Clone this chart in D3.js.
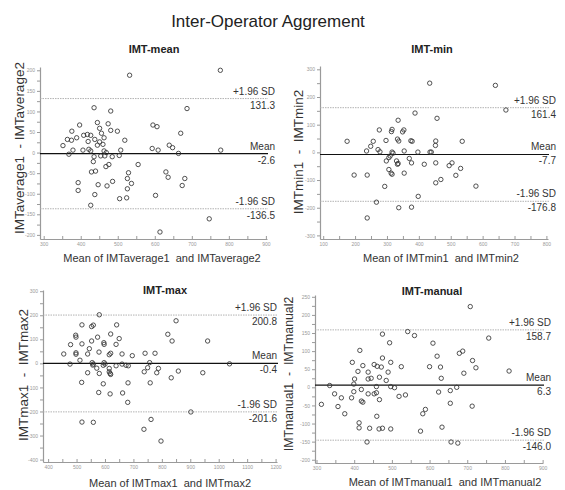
<!DOCTYPE html>
<html>
<head>
<meta charset="utf-8">
<script src="https://cdn.jsdelivr.net/npm/d3@7"></script>
<style>
  body { margin: 0; background: #fff; }
  svg { font-family: "Liberation Sans", Arial, sans-serif; }
  .tick text { fill: #999; font-size: 5px; }
  .tick line, .domain { stroke: #9a9a9a; }
</style>
</head>
<body>
<div id="chart"></div>
<script>
// ---- data ----
const meanX = [532, 436, 481, 445, 474, 397, 451, 376, 481, 499, 456, 408, 418, 427, 389, 364, 375, 463, 519, 438,
  451, 420, 460, 352, 445, 379, 406, 422, 427, 463, 469, 368, 508, 504, 436, 454, 465, 485, 434, 555,
  468, 476, 529, 526, 537, 526, 429, 440, 393, 393, 447, 471, 486, 438, 427, 505, 524, 593, 609, 595,
  606, 602, 614, 777, 687, 670, 639, 648, 664, 778, 630, 636, 681, 674, 747];
const meanY = [188, 109, 101, 73, 70, 67, 59, 52, 54, 52, 47, 42, 44, 42, 36, 32, 30, 36, 30, 32,
  26, 27, 20, 17, 18, 6, 6, 8, 4, 4, 0, -4, 6, -7, -10, -8, -8, -10, -22, -29,
  -34, -29, -49, -63, -75, -88, -47, -45, -73, -92, -78, -81, -70, -102, -128, -112, -110, 10, 6, 67,
  63, -104, -193, 200, 107, 47, 18, 12, -2, 6, -47, -60, -63, -80, -161];
const meanStats = [131.3, -2.6, -136.5];

const minX = [434, 388, 335, 276, 316, 314, 353, 349, 175, 257, 297, 333, 337, 375, 379, 236, 249, 272, 278, 316,
  319, 354, 397, 435, 439, 298, 306, 310, 330, 335, 333, 370, 377, 417, 197, 238, 306, 313, 316, 354,
  293, 398, 267, 337, 377, 238, 640, 673, 457, 453, 452, 536, 495, 504, 453, 531, 453, 469, 516, 579];
const minY = [250, 142, 116, 81, 83, 75, 81, 74, 40, 40, 43, 48, 41, 42, 40, 5, 22, 10, 2, 1,
  -3, 5, 1, 1, 1, -31, -19, -13, -31, -40, -43, -22, -38, -43, -82, -82, -62, -75, -79, -75,
  -123, -159, -180, -200, -198, -237, 242, 153, 123, 41, 25, 40, -48, -38, -38, -58, -110, -98, -83, -122];
const minStats = [161.4, -7.7, -176.8];

const maxX = [580, 519, 553, 559, 641, 620, 497, 498, 574, 650, 553, 479, 519, 596, 597, 639, 545, 455, 498, 498,
  539, 579, 615, 620, 660, 512, 477, 555, 559, 557, 597, 600, 594, 571, 539, 580, 615, 615, 618, 620,
  639, 660, 674, 682, 696, 518, 594, 681, 578, 618, 662, 680, 519, 559, 850, 821, 836, 961, 741, 776,
  757, 750, 738, 782, 788, 858, 833, 759, 944, 1038, 902, 762, 737, 797];
const maxY = [202, 160, 153, 159, 160, 122, 117, 109, 109, 103, 93, 78, 81, 86, 79, 79, 61, 39, 44, 38,
  39, 47, 36, 42, 39, 13, -3, 3, -3, -7, 3, -3, -8, -20, -39, -42, -21, -35, -42, -46,
  -10, -3, -8, -10, 32, -79, -85, -81, -121, -127, -123, -162, -244, -245, 177, 121, 93, 93, 42, 42,
  3, -18, -35, -39, -21, -32, -60, -81, -39, -2, -202, -233, -274, -323];
const maxStats = [200.8, -0.4, -201.6];

const manualX = [708, 542, 560, 475, 494, 609, 757, 415, 620, 679, 688, 475, 395, 497, 714, 423, 453, 461, 472, 525,
  600, 629, 410, 437, 490, 723, 691, 811, 437, 445, 467, 485, 631, 401, 399, 335, 459, 497, 507, 399,
  437, 453, 459, 419, 366, 393, 419, 423, 467, 519, 536, 624, 655, 672, 313, 357, 348, 375, 655, 582,
  589, 460, 413, 413, 441, 466, 475, 497, 633, 576, 434, 657, 675, 713];
const manualY = [223, 154, 143, 147, 123, 122, 136, 102, 86, 94, 100, 81, 69, 69, 74, 60, 63, 58, 56, 57,
  57, 56, 44, 42, 42, 54, 39, 45, 23, 25, 28, 19, 25, 23, 9, 5, 2, 2, -1, -12,
  -18, -18, -15, -6, -29, -29, -38, -41, -34, -25, -21, -13, -9, 0, -47, -53, -18, -73, -44, -73,
  -61, -80, -98, -112, -113, -115, -113, -115, -110, -121, -151, -151, -154, -52];
const manualStats = [158.7, 6.3, -146.0];

const meanXTicks = [300, 400, 500, 600, 700, 800, 900];
const meanYTicks = [-200, -150, -100, -50, 0, 50, 100, 150, 200];
const minXTicks = [100, 200, 300, 400, 500, 600, 700, 800];
const minYTicks = [-300, -200, -100, 0, 100, 200, 300];
const maxXTicks = [400, 500, 600, 700, 800, 900, 1000, 1100, 1200];
const maxYTicks = [-400, -300, -200, -100, 0, 100, 200, 300];
const manualXTicks = [300, 400, 500, 600, 700, 800, 900];
const manualYTicks = [-200, -150, -100, -50, 0, 50, 100, 150, 200, 250];

const statNames = ['+1.96 SD', 'Mean', '-1.96 SD'];

// ---- layout ----
const svg = d3.select('#chart').append('svg')
    .attr('width', 565)
    .attr('height', 490);

svg.append('text')
    .attr('x', 268).attr('y', 27)
    .attr('text-anchor', 'middle')
    .style('font-size', '17px')
    .style('fill', '#222')
    .text('Inter-Operator Aggrement');

const panels = [
  { title: 'IMT-mean', xs: meanX, ys: meanY, stats: meanStats, xTicks: meanXTicks, yTicks: meanYTicks,
    xDom: [290, 903], yDom: [-210, 208], left: 40, right: 267, top: 67, bottom: 239, labelEnd: 275,
    xLabel: 'Mean of IMTaverage1  and IMTaverage2', yLabel: 'IMTaverage1  - IMTaverage2', yLabelSize: 13.5,
    titleX: 154, titleY: 53, xLabelX: 162, xLabelY: 262, yLabelX: 24, yLabelY: 148 },
  { title: 'IMT-min', xs: minX, ys: minY, stats: minStats, xTicks: minXTicks, yTicks: minYTicks,
    xDom: [90, 805], yDom: [-313, 312], left: 320, right: 548, top: 66, bottom: 239, labelEnd: 556,
    xLabel: 'Mean of IMTmin1  and IMTmin2', yLabel: 'IMTmin1  -  IMTmin2', yLabelSize: 13.5,
    titleX: 432, titleY: 53, xLabelX: 441, xLabelY: 262, yLabelX: 303, yLabelY: 152 },
  { title: 'IMT-max', xs: maxX, ys: maxY, stats: maxStats, xTicks: maxXTicks, yTicks: maxYTicks,
    xDom: [382, 1205], yDom: [-410, 305], left: 43, right: 277, top: 290, bottom: 462, labelEnd: 277,
    xLabel: 'Mean of IMTmax1  and IMTmax2', yLabel: 'IMTmax1  -  IMTmax2', yLabelSize: 13.5,
    titleX: 165, titleY: 294, xLabelX: 170, xLabelY: 487, yLabelX: 28, yLabelY: 375 },
  { title: 'IMT-manual', xs: manualX, ys: manualY, stats: manualStats, xTicks: manualXTicks, yTicks: manualYTicks,
    xDom: [296, 901], yDom: [-209, 255], left: 315, right: 543, top: 295, bottom: 463, labelEnd: 551,
    xLabel: 'Mean of IMTmanual1  and IMTmanual2', yLabel: 'IMTmanual1  -  IMTmanual2', yLabelSize: 12.3,
    titleX: 432, titleY: 295, xLabelX: 445, xLabelY: 486, yLabelX: 293, yLabelY: 374 }
];

// major ticks plus the minor ones halfway between
function withMinor(ticks) {
    const step = ticks[1] - ticks[0];
    return d3.range(ticks[0], ticks[ticks.length - 1] + step / 4, step / 2);
}

function drawPanel(p) {
    const x = d3.scaleLinear().domain(p.xDom).range([p.left, p.right]);
    const y = d3.scaleLinear().domain(p.yDom).range([p.bottom, p.top]);
    const g = svg.append('g');

    g.append('g')
        .attr('transform', `translate(0,${p.bottom})`)
        .call(d3.axisBottom(x)
            .tickValues(withMinor(p.xTicks))
            .tickSize(-3).tickSizeOuter(0).tickPadding(3)
            .tickFormat(d => p.xTicks.includes(d) ? d : ''));

    g.append('g')
        .attr('transform', `translate(${p.left},0)`)
        .call(d3.axisLeft(y)
            .tickValues(withMinor(p.yTicks))
            .tickSize(3).tickSizeOuter(0).tickPadding(2)
            .tickFormat(d => p.yTicks.includes(d) ? d : ''));

    g.selectAll('.domain').attr('stroke-width', 1.2);

    // limits of agreement and mean
    g.selectAll('.stat-line')
        .data(p.stats)
        .enter().append('line')
        .attr('class', 'stat-line')
        .attr('x1', p.left).attr('x2', p.right + 1)
        .attr('y1', d => y(d)).attr('y2', d => y(d))
        .attr('stroke', (d, i) => i === 1 ? '#111' : '#aaa')
        .attr('stroke-width', (d, i) => i === 1 ? 1.2 : 0.9)
        .attr('stroke-dasharray', (d, i) => i === 1 ? null : '1.5,1');

    g.selectAll('.stat-name')
        .data(p.stats)
        .enter().append('text')
        .attr('x', p.labelEnd)
        .attr('y', d => y(d) - 4)
        .attr('text-anchor', 'end')
        .style('font-size', '10px')
        .style('fill', '#333')
        .text((d, i) => statNames[i]);

    g.selectAll('.stat-value')
        .data(p.stats)
        .enter().append('text')
        .attr('x', p.labelEnd)
        .attr('y', d => y(d) + 10)
        .attr('text-anchor', 'end')
        .style('font-size', '10px')
        .style('fill', '#333')
        .text(d => d.toFixed(1));

    // points
    g.selectAll('circle')
        .data(p.xs.map((v, i) => [v, p.ys[i]]))
        .enter().append('circle')
        .attr('cx', d => x(d[0]))
        .attr('cy', d => y(d[1]))
        .attr('r', 2.2)
        .attr('fill', 'none')
        .attr('stroke', '#333')
        .attr('stroke-width', 0.85);

    g.append('text')
        .attr('x', p.titleX).attr('y', p.titleY)
        .attr('text-anchor', 'middle')
        .style('font-size', '11px')
        .style('font-weight', 'bold')
        .style('fill', '#222')
        .text(p.title);

    g.append('text')
        .attr('x', p.xLabelX).attr('y', p.xLabelY)
        .attr('text-anchor', 'middle')
        .style('font-size', '11px')
        .style('fill', '#333')
        .style('white-space', 'pre')
        .text(p.xLabel);

    g.append('text')
        .attr('transform', `translate(${p.yLabelX},${p.yLabelY}) rotate(-90)`)
        .attr('text-anchor', 'middle')
        .style('font-size', p.yLabelSize + 'px')
        .style('fill', '#333')
        .style('white-space', 'pre')
        .text(p.yLabel);
}

panels.forEach(drawPanel);
</script>
</body>
</html>
